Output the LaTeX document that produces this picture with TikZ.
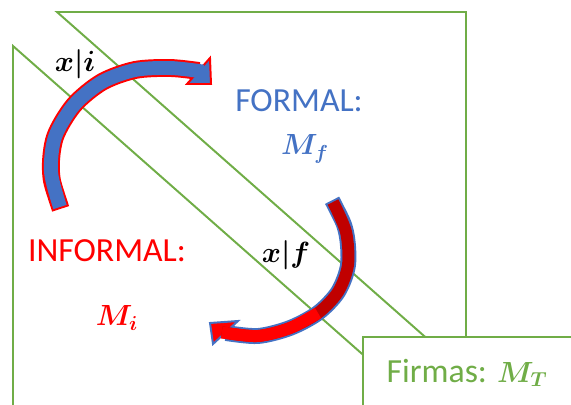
\documentclass[tikz,border=0pt]{standalone}
\usepackage{fontspec}
\setmainfont{Carlito}
\definecolor{greenc}{HTML}{70AD47}
\definecolor{bluec}{HTML}{4472C4}
\definecolor{redc}{HTML}{FF0000}
\definecolor{darkredc}{HTML}{C00000}
\usetikzlibrary{positioning}
\tikzset{
  frame/.style={draw=greenc,line width=1.4pt,line join=miter},
  lbl/.style={font=\fontsize{24}{28}\selectfont,inner sep=0pt,anchor=base},
  mlbl/.style={font=\fontsize{20.5}{24}\selectfont\boldmath,inner sep=0pt,anchor=base},
  shaftout/.style={line width=12.7pt,line cap=butt,shorten <=-1.4pt},
  shaftin/.style={line width=9.9pt,line cap=butt,shorten >=-3pt},
  head/.style={line width=1.4pt,line join=miter},
}

\begin{document}
\begin{tikzpicture}[x=0.025cm,y=-0.025cm]
  \useasboundingbox (0,0) rectangle (571,405);
  \clip (0,0) rectangle (571,405);
  \draw[frame] (57,12) -- (466,12) -- (466,373) -- cycle;
  \draw[frame] (13,420) -- (13,46) -- (437,420);
  \draw[frame,fill=white] (363,337) rectangle (590,420);
  \node[lbl,text=greenc] (firmas) at (467,382) {Firmas: {\fontsize{20.5}{24}\selectfont\boldmath$M_T$}};
  % x|i arrow
  \draw[redc,shaftout] plot[smooth] coordinates {(60,207) (51,172) (55,137) (74,105) (102,82) (135,70) (170,68) (199,71)};
  \filldraw[fill=bluec,draw=redc,head] (210,58) -- (211,84) -- (187,84) -- cycle;
  \draw[bluec,shaftin] plot[smooth] coordinates {(60,207) (51,172) (55,137) (74,105) (102,82) (135,70) (170,68) (199,71)};
  % x|f arrow
  \draw[bluec,shaftout,line width=11.3pt] plot[smooth] coordinates {(333,202) (346,232) (348,265) (338,292) (318,313) (290,328) (258,336) (226,333)};
  \filldraw[fill=redc,draw=bluec,head] (210,323) -- (238,321) -- (213,344) -- cycle;
  \draw[darkredc,shaftin,line width=8.5pt] plot[smooth] coordinates {(333,202) (346,232) (348,265) (338,292) (318,313) (290,328) (258,336) (226,333)};
  \draw[redc,shaftin,line width=8.5pt] plot[smooth] coordinates {(318,313) (290,328) (258,336) (226,333)};
  \node[lbl,text=bluec] (formal) at (299,112) {FORMAL:};
  \node[mlbl,text=bluec] (mf) at (305,155) {$M_f$};
  \node[lbl,text=redc] (informal) at (107,262) {INFORMAL:};
  \node[mlbl,text=redc] (mi) at (117,326) {$M_i$};
  \node[mlbl] (xi) at (75,72) {$x|i$};
  \node[mlbl] (xf) at (286,263) {$x|f$};
\end{tikzpicture}
\end{document}
